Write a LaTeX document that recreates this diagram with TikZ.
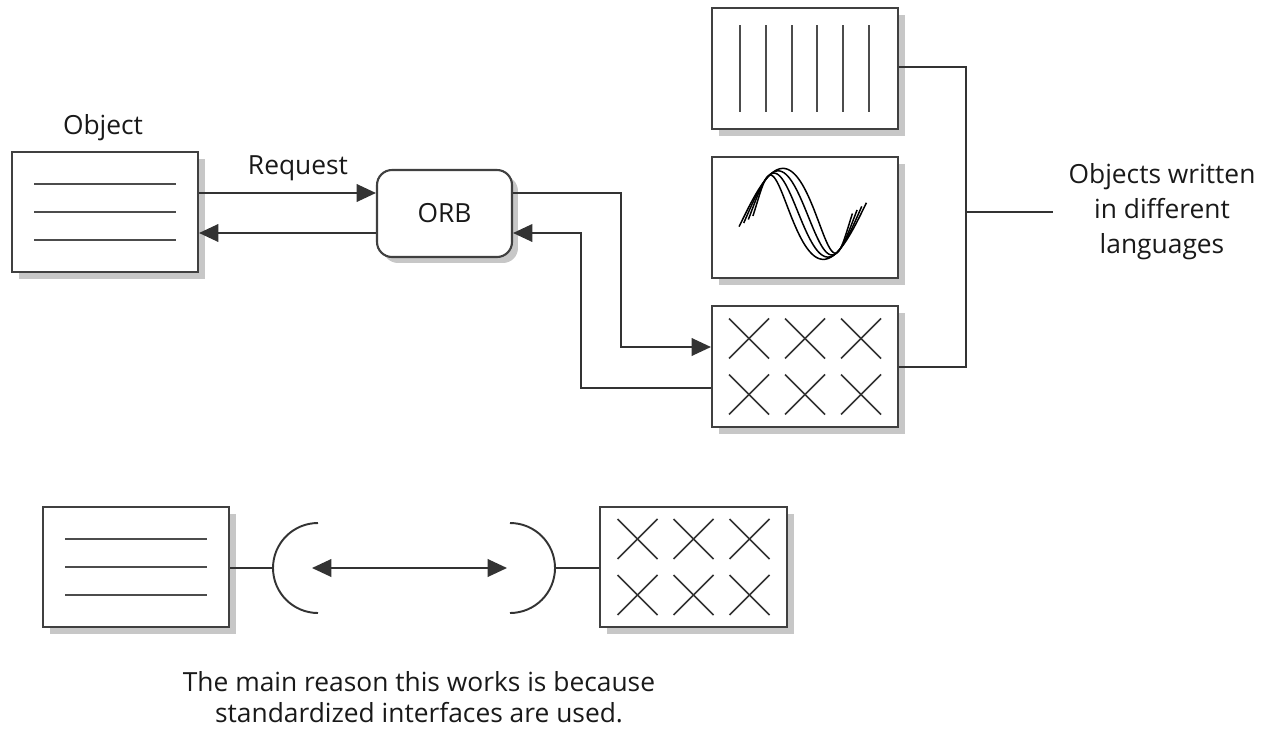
\documentclass[tikz,border=0pt]{standalone}
\usepackage{fontspec}
\setmainfont{Open Sans}
\usetikzlibrary{arrows.meta,shadows}
\begin{document}
\begin{tikzpicture}[x=0.02cm,y=-0.02cm,
  line width=1.1pt, draw=black!80,
  every node/.style={text=black!90, font=\fontsize{15}{20}\selectfont},
  box/.style={draw=black!75, line width=1.2pt, fill=white, minimum width=3.72cm,
    minimum height=2.4cm, inner sep=0pt,
    drop shadow={shadow xshift=0.14cm, shadow yshift=-0.14cm, fill=black!22, opacity=1}},
  orbbox/.style={draw=black!75, line width=1.2pt, fill=white, rounded corners=0.3cm,
    minimum width=2.7cm, minimum height=1.74cm, inner sep=0pt,
    drop shadow={shadow xshift=0.12cm, shadow yshift=-0.12cm, fill=black!22, opacity=1}},
  txt/.style={inner sep=0pt},
  arr/.style={-{Triangle[length=11pt,width=10pt]}},
  inner/.style={line width=1.1pt, draw=black!70},
  thin/.style={line width=0.9pt, draw=black!80}]
\useasboundingbox (0,0) rectangle (1270,730);

% nodes
\node[box] (objL) at (105,212) {};
\node[txt] (objlabel) at (103,128) {Object};
\node[orbbox] (orb) at (444.5,213.5) {ORB};
\node[txt] (reqlabel) at (298,168) {Request};
\node[box, minimum height=2.42cm] (boxV) at (805,68.5) {};
\node[box, minimum height=2.42cm] (boxS) at (805,217.5) {};
\node[box, minimum height=2.42cm] (boxX) at (805,366.5) {};
\node[box] (botL) at (136,567) {};
\node[box, minimum width=3.74cm] (botR) at (693.5,567) {};
\node[txt, align=center] (langs) at (1162,212) {Objects written\\in different\\languages};
\node[txt, align=center, font=\fontsize{15}{17.5}\selectfont] (reason) at (419,697) {The main reason this works is because\\standardized interfaces are used.};

% contents of the boxes
\foreach \dy in {-28,0,28} {
  \draw[inner] ([shift={(-71,\dy)}]objL.center) -- ([shift={(71,\dy)}]objL.center);
  \draw[inner] ([shift={(-71,\dy)}]botL.center) -- ([shift={(71,\dy)}]botL.center);
}
\foreach \i in {0,...,5} {
  \draw[inner] ([shift={(-65+25.8*\i,-43.5)}]boxV.center) -- ([shift={(-65+25.8*\i,43.5)}]boxV.center);
}
\foreach \dx in {-56,0,56} {
  \foreach \dy in {-28,28} {
    \draw[thin] ([shift={(\dx-20,\dy-20)}]boxX.center) -- ([shift={(\dx+20,\dy+20)}]boxX.center);
    \draw[thin] ([shift={(\dx-20,\dy+20)}]boxX.center) -- ([shift={(\dx+20,\dy-20)}]boxX.center);
    \draw[thin] ([shift={(\dx-20,\dy-20)}]botR.center) -- ([shift={(\dx+20,\dy+20)}]botR.center);
    \draw[thin] ([shift={(\dx-20,\dy+20)}]botR.center) -- ([shift={(\dx+20,\dy-20)}]botR.center);
  }
}
\foreach \k in {-1.5,-0.5,0.5,1.5} {
  \draw[line width=0.85pt, draw=black, shift={(boxS.center)}]
    plot[domain=-100:278, samples=80, variable=\t, smooth]
    ({-29 + 0.3*\t + 6.5*\k*sin(0.7171*(\t+37))}, {-3.5 - 42*cos(\t) - 5*\k*sin(0.7171*(\t+37))});
}

% connectors top
\coordinate (j1) at (621,347);
\coordinate (j2) at (581,388);
\draw[arr] (objL.east |- 0,193) -- (orb.west |- 0,193);
\draw[arr] (orb.west |- 0,233) -- (objL.east |- 0,233);
\draw[arr] (orb.east |- 0,193) -| (j1) -- (boxX.west |- j1);
\draw[arr] (boxX.west |- j2) -- (j2) |- (orb.east |- 0,233);

% bus on the right
\coordinate (busT) at (966,67);
\coordinate (busB) at (966,367);
\coordinate (busM) at (966,212);
\coordinate (busEnd) at (1053,212);
\draw (boxV.east |- busT) -- (busT) -- (busB) -- (boxX.east |- busB);
\draw (busM) -- (busEnd);

% bottom interfaces
\coordinate (arcL) at (273,568);
\coordinate (arcR) at (555,568);
\coordinate (tipL) at (312,568);
\coordinate (tipR) at (507,568);
\draw (botL.east |- arcL) -- (arcL);
\draw (arcR) -- (botR.west |- arcR);
\draw (318,523) .. controls (293.15,523) and (273,543.15) .. (arcL)
  .. controls (273,592.85) and (293.15,613) .. (318,613);
\draw (510,523) .. controls (534.85,523) and (555,543.15) .. (arcR)
  .. controls (555,592.85) and (534.85,613) .. (510,613);
\draw[{Triangle[length=11pt,width=10pt]}-{Triangle[length=11pt,width=10pt]}] (tipL) -- (tipR);
\end{tikzpicture}
\end{document}
